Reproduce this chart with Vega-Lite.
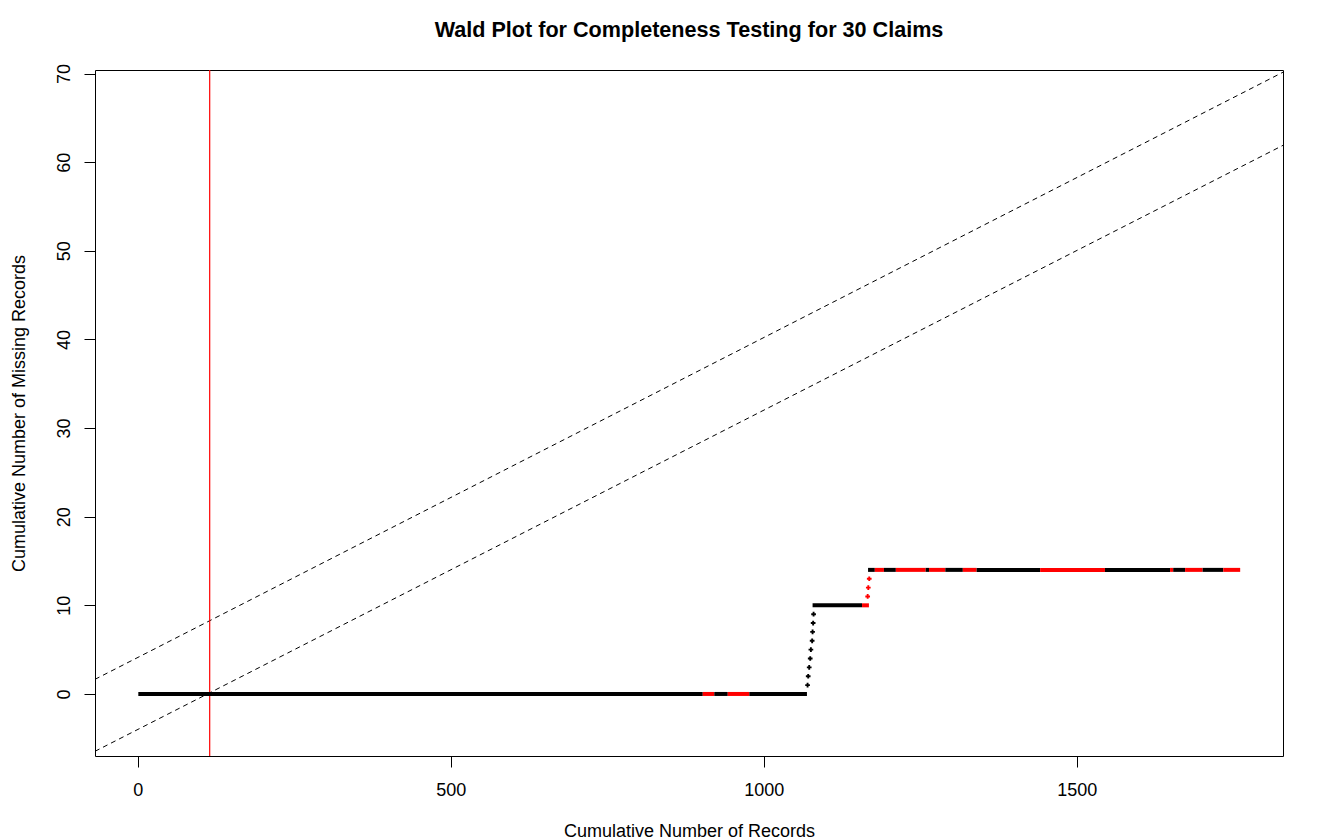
{
  "$schema": "https://vega.github.io/schema/vega-lite/v6.json",
  "width": 1188,
  "height": 686,
  "autosize": {"type": "none"},
  "padding": {"left": 95, "top": 70, "right": 44, "bottom": 83},
  "background": "white",
  "title": {
    "text": "Wald Plot for Completeness Testing for 30 Claims",
    "font": "Liberation Sans",
    "fontSize": 21.6,
    "fontWeight": "bold",
    "color": "black",
    "anchor": "middle",
    "baseline": "alphabetic",
    "offset": 5
  },
  "config": {
    "view": {"stroke": "black", "strokeWidth": 1},
    "axis": {
      "domain": false,
      "grid": false,
      "ticks": true,
      "tickSize": 11,
      "tickColor": "black",
      "tickWidth": 1,
      "labelFont": "Liberation Sans",
      "labelFontSize": 18,
      "labelColor": "black",
      "labelFlush": false,
      "labelOverlap": false,
      "format": "d",
      "titleFont": "Liberation Sans",
      "titleFontSize": 18,
      "titleFontWeight": "normal",
      "titleColor": "black"
    }
  },
  "datasets": {
    "bounds": [
      {"line": "upper", "records": -68.2, "missing": 1.65},
      {"line": "upper", "records": 1829.4, "missing": 70.15},
      {"line": "lower", "records": -68.2, "missing": -6.47},
      {"line": "lower", "records": 1829.4, "missing": 61.9}
    ],
    "runs": [
      {"start": 1, "end": 902.6, "missing": 0, "group": "A"},
      {"start": 902.6, "end": 921, "missing": 0, "group": "B"},
      {"start": 921, "end": 942.5, "missing": 0, "group": "A"},
      {"start": 942.5, "end": 977, "missing": 0, "group": "B"},
      {"start": 977, "end": 1069, "missing": 0, "group": "A"},
      {"start": 1078, "end": 1157, "missing": 10, "group": "A"},
      {"start": 1157, "end": 1168, "missing": 10, "group": "B"},
      {"start": 1166.6, "end": 1177.4, "missing": 14, "group": "A"},
      {"start": 1177.4, "end": 1192, "missing": 14, "group": "B"},
      {"start": 1192, "end": 1211, "missing": 14, "group": "A"},
      {"start": 1211, "end": 1258.6, "missing": 14, "group": "B"},
      {"start": 1258.6, "end": 1264, "missing": 14, "group": "A"},
      {"start": 1264, "end": 1290, "missing": 14, "group": "B"},
      {"start": 1290, "end": 1318, "missing": 14, "group": "A"},
      {"start": 1318, "end": 1340, "missing": 14, "group": "B"},
      {"start": 1340, "end": 1441.5, "missing": 14, "group": "A"},
      {"start": 1441.5, "end": 1545, "missing": 14, "group": "B"},
      {"start": 1545, "end": 1649, "missing": 14, "group": "A"},
      {"start": 1649, "end": 1654, "missing": 14, "group": "B"},
      {"start": 1654, "end": 1673, "missing": 14, "group": "A"},
      {"start": 1673, "end": 1701, "missing": 14, "group": "B"},
      {"start": 1701, "end": 1734, "missing": 14, "group": "A"},
      {"start": 1734, "end": 1761, "missing": 14, "group": "B"}
    ],
    "steps": [
      {"records": 1070, "missing": 1, "group": "A"},
      {"records": 1071, "missing": 2, "group": "A"},
      {"records": 1072.6, "missing": 3, "group": "A"},
      {"records": 1074.2, "missing": 4, "group": "A"},
      {"records": 1075.3, "missing": 5, "group": "A"},
      {"records": 1077.3, "missing": 6, "group": "A"},
      {"records": 1078, "missing": 7, "group": "A"},
      {"records": 1078.9, "missing": 8, "group": "A"},
      {"records": 1079.6, "missing": 9, "group": "A"},
      {"records": 1166, "missing": 11, "group": "B"},
      {"records": 1167, "missing": 12, "group": "B"},
      {"records": 1168.5, "missing": 13, "group": "B"}
    ],
    "cutoff": [{"records": 115}]
  },
  "layer": [
    {
      "data": {"name": "bounds"},
      "mark": {"type": "line", "color": "black", "strokeWidth": 1, "strokeDash": [5, 4], "clip": true},
      "encoding": {
        "x": {
          "field": "records", "type": "quantitative",
          "scale": {"domain": [-68.2, 1829.4], "nice": false, "zero": false},
          "axis": {"values": [0, 500, 1000, 1500], "title": "Cumulative Number of Records", "labelPadding": 14, "titlePadding": 23}
        },
        "y": {
          "field": "missing", "type": "quantitative",
          "scale": {"domain": [-7, 70.4], "nice": false, "zero": false},
          "axis": {"values": [0, 10, 20, 30, 40, 50, 60, 70], "labelAngle": 270, "title": "Cumulative Number of Missing Records", "labelPadding": 11, "titlePadding": 27}
        },
        "detail": {"field": "line"}
      }
    },
    {
      "data": {"name": "cutoff"},
      "mark": {"type": "rule", "color": "#ff0000", "strokeWidth": 1.2},
      "encoding": {"x": {"field": "records", "type": "quantitative"}}
    },
    {
      "data": {"name": "runs"},
      "mark": {"type": "rule", "strokeWidth": 4, "strokeCap": "butt"},
      "encoding": {
        "x": {"field": "start", "type": "quantitative"},
        "x2": {"field": "end"},
        "y": {"field": "missing", "type": "quantitative"},
        "color": {"field": "group", "type": "nominal", "scale": {"domain": ["A", "B"], "range": ["#000000", "#ff0000"]}, "legend": null}
      }
    },
    {
      "data": {"name": "steps"},
      "mark": {"type": "point", "shape": "cross", "filled": true, "size": 22, "opacity": 1},
      "encoding": {
        "x": {"field": "records", "type": "quantitative"},
        "y": {"field": "missing", "type": "quantitative"},
        "color": {"field": "group", "type": "nominal", "scale": {"domain": ["A", "B"], "range": ["#000000", "#ff0000"]}, "legend": null}
      }
    }
  ]
}
